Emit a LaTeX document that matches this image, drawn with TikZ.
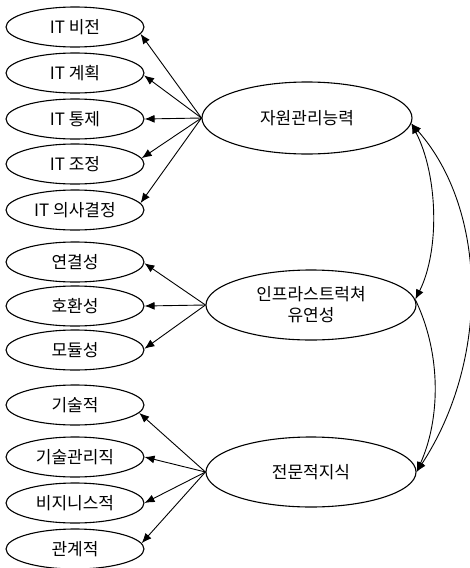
\documentclass[tikz,border=0pt]{standalone}
\usepackage{fontspec}
\setmainfont{Noto Sans CJK KR}
\usetikzlibrary{shapes.geometric,arrows.meta}
\tikzset{
  small/.style={ellipse,draw,line width=1.1pt,minimum width=138pt,minimum height=40pt,inner sep=0pt,font=\fontsize{17}{19}\selectfont},
  big/.style={ellipse,draw,line width=1.1pt,minimum width=210pt,minimum height=72pt,inner sep=0pt,align=center,font=\fontsize{17}{21}\selectfont},
  arr/.style={-{Latex[length=10pt,width=8pt]},line width=0.9pt},
  darr/.style={{Latex[length=10pt,width=8pt]}-{Latex[length=10pt,width=8pt]},line width=0.9pt}
}
\begin{document}
\begin{tikzpicture}[x=1pt,y=-1pt]
\useasboundingbox (0,0) rectangle (470,568);
% group 1
\node[small] (a1) at (75,27) {IT 비전};
\node[small] (a2) at (75,73) {IT 계획};
\node[small] (a3) at (75,119) {IT 통제};
\node[small] (a4) at (75,164) {IT 조정};
\node[small] (a5) at (75,210) {IT 의사결정};
\node[big] (b1) at (307,118) {자원관리능력};
% group 2
\node[small] (c1) at (75,262) {연결성};
\node[small] (c2) at (75,306) {호환성};
\node[small] (c3) at (75,350) {모듈성};
\node[big,minimum height=70pt] (b2) at (311,305) {인프라스트럭쳐\\유연성};
% group 3
\node[small] (d1) at (75,405) {기술적};
\node[small] (d2) at (75,457) {기술관리직};
\node[small] (d3) at (75,503) {비지니스적};
\node[small] (d4) at (75,549) {관계적};
\node[big,minimum height=70pt] (b3) at (311,472) {전문적지식};
% arrows
\draw[arr] (b1.west) -- (a1.-6);
\draw[arr] (b1.west) -- (a2.-2);
\draw[arr] (b1.west) -- (a3.east);
\draw[arr] (b1.west) -- (a4.5);
\draw[arr] (b1.west) -- (a5.6);
\draw[arr] (b2.west) -- (c1.-1);
\draw[arr] (b2.west) -- (c2.east);
\draw[arr] (b2.west) -- (c3.1);
\draw[arr] (b3.west) -- (d1.-7);
\draw[arr] (b3.west) -- (d2.east);
\draw[arr] (b3.west) -- (d3.east);
\draw[arr] (b3.west) -- (d4.5);
% correlations
\draw[darr] (b1.-3) .. controls (438,175) and (440,250) .. (b2.3);
\draw[arr] (b2.3) .. controls (442,355) and (440,420) .. (b3.east);
\draw[darr] (b1.-3) .. controls (488,210) and (490,360) .. (b3.east);
\end{tikzpicture}
\end{document}
